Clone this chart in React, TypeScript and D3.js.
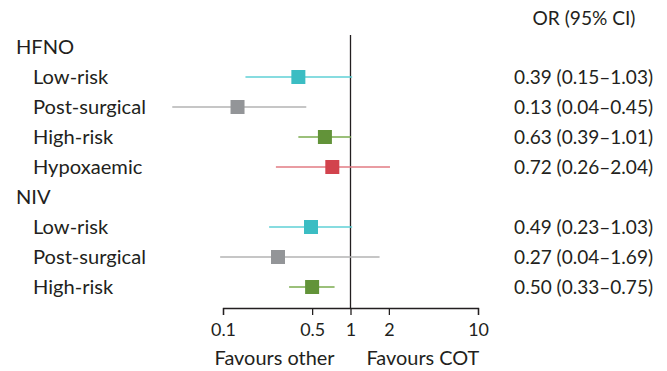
import { useEffect, useRef } from 'react'
import * as d3 from 'd3'

const WIDTH = 667
const HEIGHT = 371

// rows top to bottom: group headers have no estimate
const ROW_LABELS = ['HFNO', 'Low-risk', 'Post-surgical', 'High-risk', 'Hypoxaemic', 'NIV', 'Low-risk', 'Post-surgical', 'High-risk']
const IS_GROUP = [true, false, false, false, false, true, false, false, false]
const OR_VALUES = [NaN, 0.39, 0.13, 0.63, 0.72, NaN, 0.49, 0.27, 0.5]
const CI_LOW = [NaN, 0.15, 0.04, 0.39, 0.26, NaN, 0.23, 0.095, 0.33]
const CI_HIGH = [NaN, 1.03, 0.45, 1.01, 2.04, NaN, 1.03, 1.69, 0.75]
const OR_TEXT = ['', '0.39 (0.15–1.03)', '0.13 (0.04–0.45)', '0.63 (0.39–1.01)', '0.72 (0.26–2.04)', '', '0.49 (0.23–1.03)', '0.27 (0.04–1.69)', '0.50 (0.33–0.75)']
const MARK_COLORS = ['', '#3bbdc3', '#939598', '#629339', '#d2434d', '', '#3bbdc3', '#939598', '#629339']
const LINE_COLORS = ['', '#5fd0d6', '#b3b3b3', '#7aab4e', '#e27b83', '', '#5fd0d6', '#b3b3b3', '#7aab4e']
const TICKS = [0.1, 0.5, 1, 2, 10]

const FONT = "Lato, 'Noto Sans', sans-serif"
const INK = '#231f20'

export default function App() {
  const ref = useRef<SVGSVGElement>(null)

  useEffect(() => {
    if (!ref.current) return
    const svg = d3.select(ref.current)
    svg.selectAll('*').remove()

    // pick a font size so a sample string gets the width it has in the original
    const fit = (sample: string, width: number) => {
      const t = svg.append('text').attr('font-family', FONT).attr('font-size', 20).text(sample)
      const w = (t.node() as SVGTextElement).getComputedTextLength()
      t.remove()
      return w > 0 ? 20 * width / w : 18
    }
    const labelSize = fit('Post-surgical', 113)
    const valueSize = fit('0.39 (0.15–1.03)', 139)
    const headSize = fit('OR (95% CI)', 103)
    const favSize = fit('Favours other', 120)
    const tickSize = fit('0.1', 25)

    const x = d3.scaleLog().domain([0.1, 10]).range([223, 478])
    const y = d3.scaleLinear().domain([0, ROW_LABELS.length - 1]).range([47, 287])
    const axisY = 308

    // labels
    svg.append('g').selectAll('text').data(ROW_LABELS).join('text')
      .attr('x', (d, i) => IS_GROUP[i] ? 16 : 33)
      .attr('y', (d, i) => y(i))
      .attr('dy', '0.35em')
      .attr('font-family', FONT).attr('font-size', labelSize).attr('fill', INK)
      .text(d => d)

    // reference line at OR = 1
    svg.append('line')
      .attr('x1', x(1)).attr('x2', x(1)).attr('y1', 35).attr('y2', axisY)
      .attr('stroke', INK).attr('stroke-width', 1.3)

    const rows = ROW_LABELS.map((_, i) => i).filter(i => !IS_GROUP[i])

    // confidence intervals
    svg.append('g').selectAll('line').data(rows).join('line')
      .attr('x1', i => x(CI_LOW[i])).attr('x2', i => x(CI_HIGH[i]))
      .attr('y1', i => y(i)).attr('y2', i => y(i))
      .attr('stroke', i => LINE_COLORS[i]).attr('stroke-width', 1.6)

    // point estimates
    const size = 14
    svg.append('g').selectAll('rect').data(rows).join('rect')
      .attr('x', i => x(OR_VALUES[i]) - size / 2)
      .attr('y', i => y(i) - size / 2)
      .attr('width', size).attr('height', size)
      .attr('fill', i => MARK_COLORS[i])

    // OR text column
    svg.append('text')
      .attr('x', 584).attr('y', 18).attr('dy', '0.35em')
      .attr('text-anchor', 'middle')
      .attr('font-family', FONT).attr('font-size', headSize).attr('fill', INK)
      .text('OR (95% CI)')
    svg.append('g').selectAll('text').data(rows).join('text')
      .attr('x', 653).attr('y', i => y(i)).attr('dy', '0.35em')
      .attr('text-anchor', 'end')
      .attr('font-family', FONT).attr('font-size', valueSize).attr('fill', INK)
      .text(i => OR_TEXT[i])

    // x axis
    const axis = svg.append('g')
      .attr('transform', `translate(0,${axisY})`)
      .call(d3.axisBottom(x).tickValues(TICKS).tickFormat(d => String(d)).tickSizeOuter(0).tickSize(7).tickPadding(8))
    axis.select('.domain').attr('stroke', INK).attr('stroke-width', 1.3)
    axis.selectAll('.tick line').attr('stroke', INK).attr('stroke-width', 1.3)
    axis.selectAll('.tick text')
      .attr('fill', INK).attr('font-family', FONT).attr('font-size', tickSize)

    svg.append('text')
      .attr('x', x(1) - 16).attr('y', 358).attr('dy', '0.35em')
      .attr('text-anchor', 'end')
      .attr('font-family', FONT).attr('font-size', favSize).attr('fill', INK)
      .text('Favours other')
    svg.append('text')
      .attr('x', x(1) + 16).attr('y', 358).attr('dy', '0.35em')
      .attr('font-family', FONT).attr('font-size', favSize).attr('fill', INK)
      .text('Favours COT')
  }, [])

  return (
    <div style={{ position: 'absolute', left: 0, top: 0, background: '#fff' }}>
      <svg ref={ref} width={WIDTH} height={HEIGHT} />
    </div>
  )
}
